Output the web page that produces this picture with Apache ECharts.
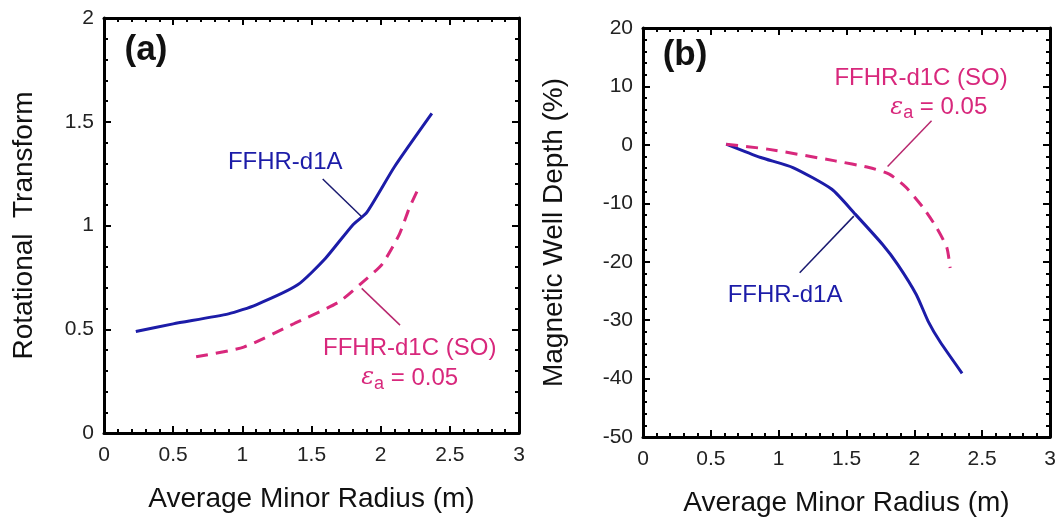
<!DOCTYPE html>
<html>
<head>
<meta charset="utf-8">
<script src="https://cdn.jsdelivr.net/npm/echarts@6/dist/echarts.min.js"></script>
<style>
  html, body { margin: 0; padding: 0; background: #fff; }
  #chart { width: 1062px; height: 524px; }
</style>
</head>
<body>
<div id="chart"></div>
<script>
// (a) 旋转变换
const radiusA1 = [0.23, 0.5, 0.9, 1.1, 1.4, 1.6, 1.8, 1.9, 2.1, 2.37]
const iotaA1 = [0.489, 0.526, 0.574, 0.618, 0.714, 0.841, 1.004, 1.063, 1.283, 1.54]
const radiusC1 = [0.666, 1.01, 1.38, 1.695, 1.866, 2.01, 2.134, 2.207, 2.273]
const iotaC1 = [0.367, 0.414, 0.529, 0.63, 0.725, 0.813, 0.956, 1.084, 1.179]

// (b) 磁阱深度
const radiusA2 = [0.613, 0.868, 1.105, 1.392, 1.566, 1.766, 1.878, 2.015, 2.102, 2.19, 2.352]
const wellA2 = [0.13, -2.17, -3.88, -7.6, -11.9, -17.06, -20.5, -25.65, -30.2, -33.7, -39.1]
const radiusC2 = [0.613, 0.918, 1.416, 1.666, 1.815, 1.94, 2.065, 2.165, 2.24, 2.264]
const wellC2 = [0.1, -0.73, -2.74, -3.88, -5.0, -7.3, -10.75, -14.2, -17.6, -21.07]

const blue = '#1c1ca8'
const pink = '#d8287c'
const font = "'Liberation Sans', Arial, sans-serif"

const zip = (xs, ys) => xs.map((x, i) => [x, ys[i]])

var myChart = echarts.init(document.getElementById('chart'))

// 坐标轴 (带镜像刻度)
const makeAxis = (gridIndex, pos, min, max, interval, extra) => {
  const mirror = pos === 'top' || pos === 'right'
  return Object.assign({
    type: 'value',
    gridIndex: gridIndex,
    position: pos,
    min: min,
    max: max,
    interval: interval,
    splitLine: { show: false },
    axisLine: { show: true, onZero: false, lineStyle: { color: '#000', width: 3 } },
    axisTick: { show: true, inside: true, length: 7, lineStyle: { color: '#000', width: 2 } },
    minorTick: { show: true, splitNumber: 5, length: 4, lineStyle: { color: '#000', width: 2 } },
    axisLabel: { show: !mirror, color: '#222', fontSize: 21, fontFamily: font, margin: 10 }
  }, extra || {})
}

const xName = {
  name: 'Average Minor Radius (m)',
  nameLocation: 'middle',
  nameGap: 52,
  nameTextStyle: { fontSize: 28, color: '#111', fontFamily: font }
}

var option = {
  animation: false,
  grid: [
    { left: 104, top: 18, right: 543, bottom: 91 },
    { left: 643, top: 28, right: 12, bottom: 87 }
  ],
  xAxis: [
    makeAxis(0, 'bottom', 0, 3, 0.5, Object.assign({}, xName, { axisLabel: { show: true, color: '#222', fontSize: 21, fontFamily: font, margin: 12 } })),
    makeAxis(0, 'top', 0, 3, 0.5),
    makeAxis(1, 'bottom', 0, 3, 0.5, Object.assign({}, xName, { axisLabel: { show: true, color: '#222', fontSize: 21, fontFamily: font, margin: 12 } })),
    makeAxis(1, 'top', 0, 3, 0.5)
  ],
  yAxis: [
    makeAxis(0, 'left', 0, 2, 0.5, {
      name: 'Rotational  Transform',
      nameLocation: 'middle',
      nameGap: 66,
      nameTextStyle: { fontSize: 28, color: '#111', fontFamily: font }
    }),
    makeAxis(0, 'right', 0, 2, 0.5),
    makeAxis(1, 'left', -50, 20, 10, {
      name: 'Magnetic Well Depth (%)',
      nameLocation: 'middle',
      nameGap: 75,
      nameTextStyle: { fontSize: 28, color: '#111', fontFamily: font }
    }),
    makeAxis(1, 'right', -50, 20, 10)
  ],
  series: [
    {
      name: 'FFHR-d1A', type: 'line', xAxisIndex: 0, yAxisIndex: 0,
      data: zip(radiusA1, iotaA1), showSymbol: false, smooth: 0.2,
      lineStyle: { color: blue, width: 3 },
      markLine: {
        silent: true, symbol: 'none', label: { show: false },
        lineStyle: { color: '#1a1a70', width: 1.5, type: 'solid' },
        data: [[{ coord: [1.581, 1.224] }, { coord: [1.863, 1.042] }]]
      }
    },
    {
      name: 'FFHR-d1C (SO)', type: 'line', xAxisIndex: 0, yAxisIndex: 0,
      data: zip(radiusC1, iotaC1), showSymbol: false, smooth: 0.2,
      lineStyle: { color: pink, width: 3, type: [12, 8] },
      markLine: {
        silent: true, symbol: 'none', label: { show: false },
        lineStyle: { color: '#b8286e', width: 1.5, type: 'solid' },
        data: [[{ coord: [1.863, 0.697] }, { coord: [2.14, 0.52] }]]
      }
    },
    {
      name: 'FFHR-d1A', type: 'line', xAxisIndex: 2, yAxisIndex: 2,
      data: zip(radiusA2, wellA2), showSymbol: false, smooth: 0.2,
      lineStyle: { color: blue, width: 3 },
      markLine: {
        silent: true, symbol: 'none', label: { show: false },
        lineStyle: { color: '#1a1a70', width: 1.5, type: 'solid' },
        data: [[{ coord: [1.155, -21.9] }, { coord: [1.554, -12.2] }]]
      }
    },
    {
      name: 'FFHR-d1C (SO)', type: 'line', xAxisIndex: 2, yAxisIndex: 2,
      data: zip(radiusC2, wellC2), showSymbol: false, smooth: 0.2,
      lineStyle: { color: pink, width: 3, type: [12, 8] },
      markLine: {
        silent: true, symbol: 'none', label: { show: false },
        lineStyle: { color: '#b8286e', width: 1.5, type: 'solid' },
        data: [[{ coord: [2.127, 4.14] }, { coord: [1.803, -3.71] }]]
      }
    }
  ]
}

myChart.setOption(option)

// 注释文字 (数据坐标 -> 像素)
const labels = [
  { grid: 0, at: [1.31, 1.305], text: 'FFHR-d1A', color: blue },
  { grid: 0, at: [2.21, 0.41], text: 'FFHR-d1C (SO)', color: pink },
  { grid: 0, at: [2.21, 0.265], text: '{e|ε}{s|a} = 0.05', color: pink },
  { grid: 1, at: [2.05, 11.3], text: 'FFHR-d1C (SO)', color: pink },
  { grid: 1, at: [2.18, 6.43], text: '{e|ε}{s|a} = 0.05', color: pink },
  { grid: 1, at: [1.047, -25.76], text: 'FFHR-d1A', color: blue }
]

const graphic = labels.map(l => {
  const p = myChart.convertToPixel({ gridIndex: l.grid }, l.at)
  return {
    type: 'text', x: p[0], y: p[1], silent: true,
    style: {
      text: l.text, fill: l.color, font: '24px ' + font,
      align: 'center', verticalAlign: 'middle',
      rich: {
        e: { fontSize: 24, fontStyle: 'italic', fontFamily: 'DejaVu Serif', fill: l.color },
        s: { fontSize: 18, fontFamily: font, fill: l.color, padding: [12, 0, 0, 0] }
      }
    }
  }
})

graphic.push(
  { type: 'text', x: 146, y: 50, silent: true, style: { text: '(a)', fill: '#111', font: 'bold 35px ' + font, align: 'center', verticalAlign: 'middle' } },
  { type: 'text', x: 685, y: 55, silent: true, style: { text: '(b)', fill: '#111', font: 'bold 35px ' + font, align: 'center', verticalAlign: 'middle' } }
)

myChart.setOption({ graphic: graphic })
</script>
</body>
</html>
